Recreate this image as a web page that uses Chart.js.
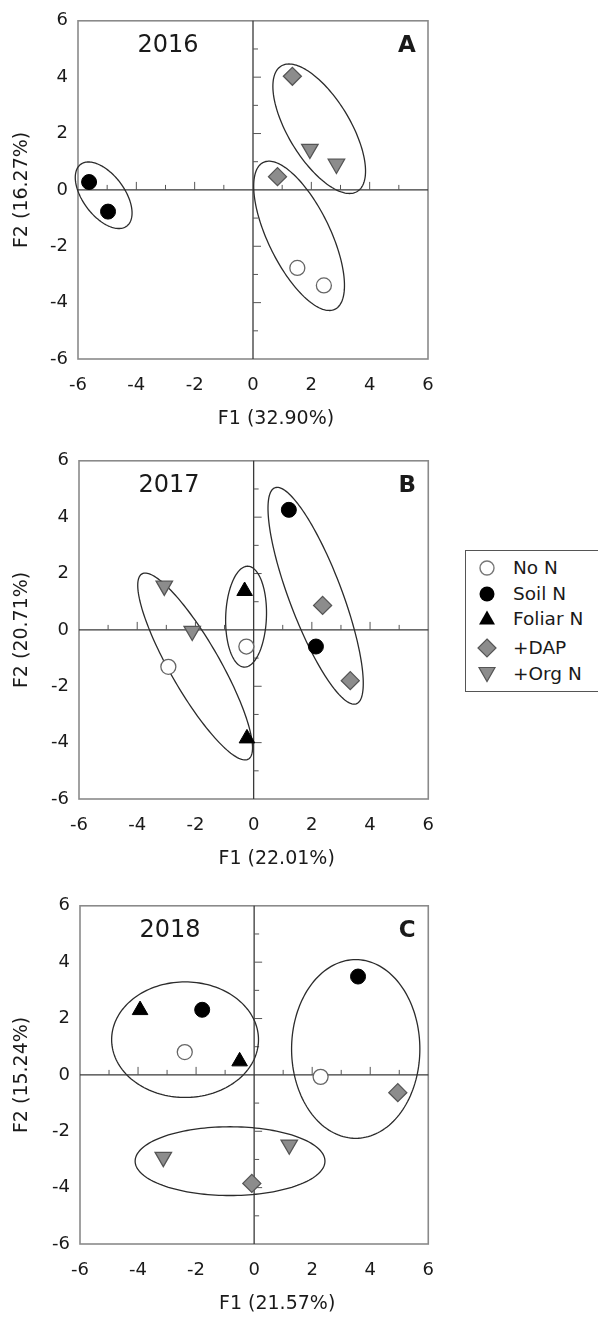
<!DOCTYPE html>
<html>
<head>
<meta charset="utf-8">
<script src="https://cdn.jsdelivr.net/npm/chart.js@4.4.1/dist/chart.umd.min.js"></script>
<style>
html,body{margin:0;padding:0;background:#fff;}
body{width:598px;height:1318px;overflow:hidden;position:relative;font-family:"DejaVu Sans",Arial,sans-serif;color:#1a1a1a;}
canvas{position:absolute;left:0;}
#legend{position:absolute;left:465px;top:550px;width:150px;height:142px;border:1.5px solid #555;box-sizing:border-box;background:#fff;}
#legend .row{position:absolute;left:0;width:150px;height:22px;}
#legend svg{position:absolute;left:10px;top:1px;}
#legend span{position:absolute;left:47px;top:0;font-size:18.5px;line-height:22px;white-space:nowrap;}
</style>
</head>
<body>
<canvas id="cA" width="450" height="430" style="top:0px"></canvas>
<canvas id="cB" width="450" height="430" style="top:440px"></canvas>
<canvas id="cC" width="450" height="430" style="top:885px"></canvas>
<div id="legend"></div>
<script>
// ---------------- DATA ----------------
const categories = ['No N', 'Soil N', 'Foliar N', '+DAP', '+Org N'];
const years = ['2016', '2017', '2018'];
const panelLetters = ['A', 'B', 'C'];
const xTitles = ['F1 (32.90%)', 'F1 (22.01%)', 'F1 (21.57%)'];
const yTitles = ['F2 (16.27%)', 'F2 (20.71%)', 'F2 (15.24%)'];
const tickValues = [-6, -4, -2, 0, 2, 4, 6];

// 2016 (F1, F2) scores
const noN2016    = [[1.52, -2.77], [2.43, -3.39]];
const soilN2016  = [[-5.62, 0.28], [-4.97, -0.77]];
const foliarN2016 = [];
const dap2016    = [[1.35, 4.03], [0.84, 0.47]];
const orgN2016   = [[1.95, 1.45], [2.86, 0.92]];
// ellipses: [centerF1, centerF2, semiMajor, semiMinor, angleDeg]
const ellipses2016 = [[-5.12, -0.19, 1.35, 0.72, -55], [2.27, 2.17, 2.58, 1.07, -60], [1.58, -1.63, 2.88, 1.07, -65]];

// 2017
const noN2017    = [[-2.93, -1.31], [-0.25, -0.59]];
const soilN2017  = [[1.21, 4.26], [2.14, -0.59]];
const foliarN2017 = [[-0.31, 1.38], [-0.23, -3.85]];
const dap2017    = [[2.37, 0.87], [3.32, -1.80]];
const orgN2017   = [[-3.07, 1.56], [-2.11, -0.04]];
const ellipses2017 = [[-2.01, -1.30, 3.76, 0.86, -61], [-0.26, 0.47, 1.79, 0.70, 88], [2.13, 1.21, 4.08, 0.91, -70]];

// 2018
const noN2018    = [[-2.39, 0.81], [2.29, -0.07]];
const soilN2018  = [[-1.79, 2.31], [3.58, 3.49]];
const foliarN2018 = [[-3.93, 2.30], [-0.50, 0.48]];
const dap2018    = [[4.95, -0.63], [-0.08, -3.85]];
const orgN2018   = [[-3.13, -2.92], [1.21, -2.48]];
const ellipses2018 = [[-2.38, 1.25, 2.53, 2.05, 0], [3.50, 0.92, 2.21, 3.17, 0], [-0.83, -3.06, 3.27, 1.22, 0]];

// ---------------- STYLE ----------------
const FONT = '"DejaVu Sans", Arial, sans-serif';
const TXT = '#1a1a1a';
const seriesStyles = [
  {pointStyle: 'circle', radius: 7.5, bg: '#ffffff', border: '#666666', bw: 1.3, rot: 0},
  {pointStyle: 'circle', radius: 7.5, bg: '#000000', border: '#000000', bw: 1, rot: 0},
  {pointStyle: 'triangle', radius: 9, bg: '#000000', border: '#000000', bw: 1, rot: 0},
  {pointStyle: 'rectRot', radius: 9, bg: '#8c8c8c', border: '#555555', bw: 1.3, rot: 0},
  {pointStyle: 'triangle', radius: 9.5, bg: '#8c8c8c', border: '#555555', bw: 1.3, rot: 180}
];

const panels = [
  {canvas: 'cA', series: [noN2016, soilN2016, foliarN2016, dap2016, orgN2016], ellipses: ellipses2016, plotLeft: 78, plotRight: 428},
  {canvas: 'cB', series: [noN2017, soilN2017, foliarN2017, dap2017, orgN2017], ellipses: ellipses2017, plotLeft: 79, plotRight: 430},
  {canvas: 'cC', series: [noN2018, soilN2018, foliarN2018, dap2018, orgN2018], ellipses: ellipses2018, plotLeft: 80, plotRight: 430}
];

const pcaPlugin = {
  id: 'pca',
  beforeDatasetsDraw(chart, args, opts) {
    const {ctx, chartArea: ca} = chart;
    const xs = chart.scales.x, ys = chart.scales.y;
    ctx.save();
    // frame
    ctx.strokeStyle = '#8a8a8a';
    ctx.lineWidth = 1.6;
    ctx.strokeRect(ca.left, ca.top, ca.right - ca.left, ca.bottom - ca.top);
    // zero axes
    const x0 = xs.getPixelForValue(0), y0 = ys.getPixelForValue(0);
    ctx.strokeStyle = '#3a3a3a';
    ctx.lineWidth = 1.3;
    ctx.beginPath();
    ctx.moveTo(ca.left, y0); ctx.lineTo(ca.right, y0);
    ctx.moveTo(x0, ca.top); ctx.lineTo(x0, ca.bottom);
    ctx.stroke();
    // minor ticks on zero axes
    ctx.lineWidth = 1;
    ctx.strokeStyle = '#555';
    ctx.beginPath();
    for (let v = -5; v <= 5; v++) {
      if (v === 0) continue;
      const len = (v % 2 === 0) ? 8 : 5;
      const px = xs.getPixelForValue(v);
      ctx.moveTo(px, y0); ctx.lineTo(px, y0 - len);
      const py = ys.getPixelForValue(v);
      ctx.moveTo(x0, py); ctx.lineTo(x0 + len, py);
    }
    ctx.stroke();
    // ellipses
    ctx.strokeStyle = '#2b2b2b';
    ctx.lineWidth = 1.3;
    for (const [cx, cy, a, b, deg] of opts.ellipses) {
      const th = deg * Math.PI / 180;
      ctx.beginPath();
      for (let i = 0; i <= 160; i++) {
        const t = i / 160 * 2 * Math.PI;
        const ex = cx + a * Math.cos(th) * Math.cos(t) - b * Math.sin(th) * Math.sin(t);
        const ey = cy + a * Math.sin(th) * Math.cos(t) + b * Math.cos(th) * Math.sin(t);
        const px = xs.getPixelForValue(ex), py = ys.getPixelForValue(ey);
        if (i === 0) ctx.moveTo(px, py); else ctx.lineTo(px, py);
      }
      ctx.closePath();
      ctx.stroke();
    }
    ctx.restore();
  },
  afterDraw(chart, args, opts) {
    const {ctx, chartArea: ca} = chart;
    ctx.save();
    ctx.fillStyle = TXT;
    ctx.textBaseline = 'middle';
    ctx.textAlign = 'center';
    ctx.font = '24px ' + FONT;
    ctx.fillText(opts.year, ca.left + 90, ca.top + 25);
    ctx.font = 'bold 23px ' + FONT;
    ctx.fillText(opts.letter, ca.right - 21, ca.top + 25);
    ctx.font = '19px ' + FONT;
    ctx.fillText(opts.xTitle, (ca.left + ca.right) / 2 + 23, ca.bottom + 60);
    ctx.restore();
  }
};

panels.forEach((p, idx) => {
  const datasets = categories.map((name, k) => {
    const s = seriesStyles[k];
    return {
      label: name,
      data: p.series[k].map(([x, y]) => ({x, y})),
      showLine: false,
      pointStyle: s.pointStyle,
      pointRadius: s.radius,
      pointHoverRadius: s.radius,
      pointRotation: s.rot,
      pointBackgroundColor: s.bg,
      pointBorderColor: s.border,
      pointBorderWidth: s.bw,
      backgroundColor: s.bg,
      borderColor: s.border
    };
  });
  new Chart(document.getElementById(p.canvas), {
    type: 'scatter',
    data: {datasets},
    plugins: [pcaPlugin],
    options: {
      responsive: false,
      devicePixelRatio: 1,
      animation: false,
      layout: {padding: {left: 0, top: 19, right: 450 - p.plotRight, bottom: 0}},
      plugins: {
        legend: {display: false},
        tooltip: {enabled: false},
        pca: {ellipses: p.ellipses, year: years[idx], letter: panelLetters[idx], xTitle: xTitles[idx]}
      },
      scales: {
        x: {
          type: 'linear', min: -6, max: 6,
          afterBuildTicks: (s) => { s.ticks = tickValues.map(v => ({value: v})); },
          ticks: {font: {family: FONT, size: 18}, color: TXT, padding: 16, maxRotation: 0},
          grid: {display: false, drawTicks: false},
          border: {display: false},
          afterFit: (s) => { s.height = 71; }
        },
        y: {
          type: 'linear', min: -6, max: 6,
          afterBuildTicks: (s) => { s.ticks = tickValues.map(v => ({value: v})); },
          ticks: {font: {family: FONT, size: 18}, color: TXT, padding: 10},
          grid: {display: false, drawTicks: false},
          border: {display: false},
          title: {display: true, text: yTitles[idx], font: {family: FONT, size: 19}, color: TXT, padding: {top: 11, bottom: 0}},
          afterFit: (s) => { s.width = p.plotLeft; }
        }
      }
    }
  });
});

// ---------------- LEGEND ----------------
const legendRowCenters = [17, 43, 68, 97, 123];
const legendSvg = [
  '<circle cx="11" cy="10" r="7" fill="#fff" stroke="#777" stroke-width="1.4"/>',
  '<circle cx="11" cy="10" r="7.5" fill="#000"/>',
  '<polygon points="11,1.5 19,15.5 3,15.5" fill="#000"/>',
  '<polygon points="11,1 20,10 11,19 2,10" fill="#8c8c8c" stroke="#555" stroke-width="1.2"/>',
  '<polygon points="3,3.5 19,3.5 11,17.5" fill="#8c8c8c" stroke="#555" stroke-width="1.2"/>'
];
const legend = document.getElementById('legend');
categories.forEach((name, k) => {
  const row = document.createElement('div');
  row.className = 'row';
  row.style.top = (legendRowCenters[k] - 11) + 'px';
  row.innerHTML = '<svg width="22" height="20" viewBox="0 0 22 20">' + legendSvg[k] + '</svg><span>' + name + '</span>';
  legend.appendChild(row);
});
</script>
</body>
</html>
